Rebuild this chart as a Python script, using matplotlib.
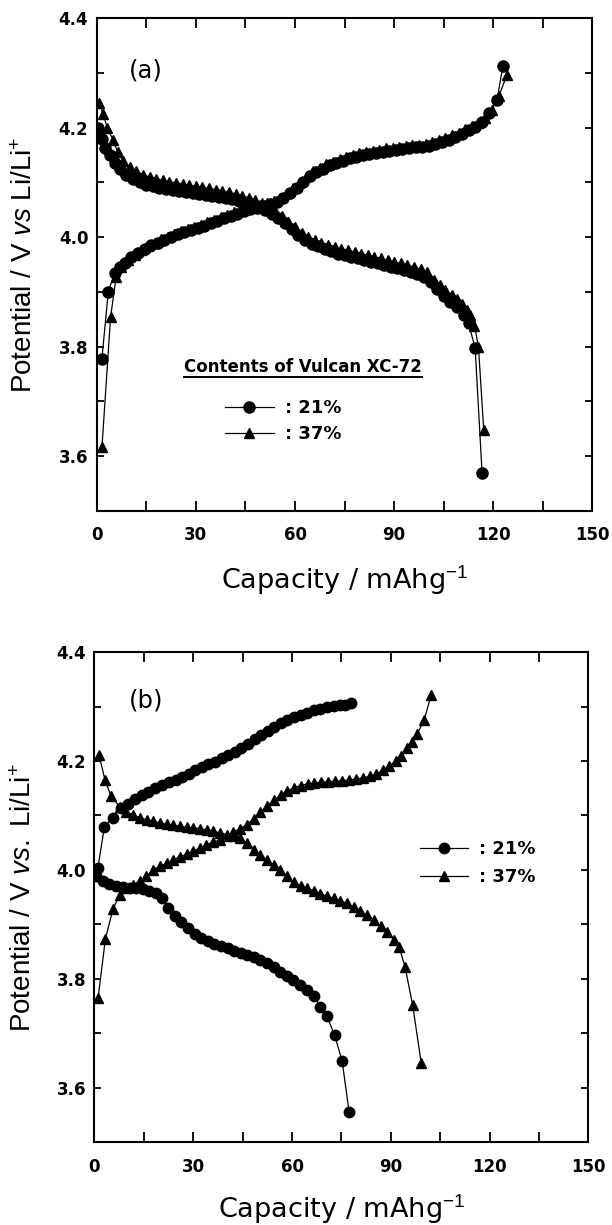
import matplotlib
matplotlib.use('Agg')
import matplotlib.pyplot as plt
from matplotlib.ticker import MultipleLocator, FuncFormatter
from matplotlib.lines import Line2D

plt.rcParams['mathtext.fontset'] = 'custom'
plt.rcParams['mathtext.rm'] = 'Liberation Sans'
plt.rcParams['mathtext.it'] = 'Liberation Sans:italic'
plt.rcParams['mathtext.bf'] = 'Liberation Sans:bold'

# ---------------- data: panel (a) ----------------
a21_chg_x = [1.57, 3.5, 5.4, 7.0, 8.5, 10.4, 12.5, 14.5, 16.5, 18.5, 20.5, 22.5, 24.5, 26.5, 28.5, 30.5,
             32.5, 34.5, 36.5, 38.5, 40.5, 42.5, 44.5, 46.5, 48.5, 50.5, 52.5, 54.5, 56.5, 58.5, 60.5,
             62.5, 64.5, 66.5, 68.5, 70.5, 72.5, 74.5, 76.5, 78.5, 80.5, 82.5, 84.5, 86.5, 88.5, 90.5,
             92.5, 94.5, 96.5, 98.5, 100.5, 102.5, 104.5, 106.5, 108.5, 110.5, 112.5, 114.5, 116.5,
             118.6, 121.1, 122.9]
a21_chg_y = [3.777, 3.900, 3.934, 3.945, 3.953, 3.963, 3.971, 3.978, 3.985, 3.990, 3.995, 4.000, 4.005,
             4.009, 4.013, 4.017, 4.021, 4.025, 4.030, 4.035, 4.039, 4.043, 4.047, 4.051, 4.054, 4.057,
             4.061, 4.065, 4.071, 4.080, 4.090, 4.101, 4.111, 4.119, 4.125, 4.131, 4.136, 4.140, 4.144,
             4.147, 4.150, 4.152, 4.154, 4.156, 4.158, 4.160, 4.161, 4.162, 4.164, 4.165, 4.167, 4.170,
             4.174, 4.178, 4.183, 4.189, 4.195, 4.201, 4.210, 4.226, 4.250, 4.313]

a37_chg_x = [1.6, 4.2, 5.9, 7.5, 9.5, 11.5, 13.5, 15.5, 17.5, 19.5, 21.5, 23.5, 25.5, 27.5, 29.5, 31.5,
             33.5, 35.5, 37.5, 39.5, 41.5, 43.5, 45.5, 47.5, 49.5, 51.5, 53.5, 55.5, 57.5, 59.5, 61.5,
             63.5, 65.5, 67.5, 69.5, 71.5, 73.5, 75.5, 77.5, 79.5, 81.5, 83.5, 85.5, 87.5, 89.5, 91.5,
             93.5, 95.5, 97.5, 99.5, 101.5, 103.5, 105.5, 107.5, 109.5, 111.5, 113.5, 115.5, 117.5,
             119.5, 121.7, 124.1]
a37_chg_y = [3.617, 3.854, 3.928, 3.945, 3.958, 3.968, 3.976, 3.984, 3.990, 3.996, 4.001, 4.006, 4.011,
             4.015, 4.019, 4.023, 4.027, 4.032, 4.037, 4.041, 4.045, 4.049, 4.053, 4.056, 4.059, 4.062,
             4.066, 4.072, 4.080, 4.090, 4.100, 4.111, 4.120, 4.127, 4.133, 4.138, 4.143, 4.147, 4.150,
             4.153, 4.156, 4.158, 4.160, 4.162, 4.163, 4.165, 4.166, 4.168, 4.169, 4.171, 4.174, 4.177,
             4.181, 4.186, 4.191, 4.197, 4.203, 4.209, 4.217, 4.232, 4.258, 4.296]

a21_dis_x = [0.5, 1.5, 2.5, 3.9, 5.5, 7.0, 9.0, 11, 13, 15, 17, 19, 21, 23, 25, 27, 29, 31, 33, 35, 37,
             39, 41, 43, 45, 47, 49, 51, 53, 55, 57, 59, 61, 63, 65, 67, 69, 71, 73, 75, 77, 79, 81, 83,
             85, 87, 89, 91, 93, 95, 97, 99, 101, 103, 105, 107, 109, 111, 112.5, 114.5, 116.6]
a21_dis_y = [4.200, 4.180, 4.163, 4.150, 4.135, 4.124, 4.114, 4.106, 4.100, 4.096, 4.093, 4.090, 4.088,
             4.086, 4.084, 4.082, 4.081, 4.079, 4.077, 4.075, 4.073, 4.071, 4.069, 4.066, 4.063, 4.059,
             4.055, 4.050, 4.043, 4.035, 4.026, 4.015, 4.004, 3.995, 3.988, 3.983, 3.978, 3.974, 3.970,
             3.967, 3.964, 3.961, 3.958, 3.955, 3.952, 3.949, 3.946, 3.943, 3.940, 3.936, 3.932, 3.928,
             3.918, 3.905, 3.893, 3.882, 3.872, 3.858, 3.843, 3.797, 3.569]

a37_dis_x = [0.8, 1.9, 3.2, 4.9, 6.4, 8, 10, 12, 14, 16, 18, 20, 22, 24, 26, 28, 30, 32, 34, 36, 38, 40,
             42, 44, 46, 48, 50, 52, 54, 56, 58, 60, 62, 64, 66, 68, 70, 72, 74, 76, 78, 80, 82, 84, 86,
             88, 90, 92, 94, 96, 98, 100, 102, 104, 105.5, 107.5, 109, 110.5, 112, 113, 114.3, 115.5,
             117.1]
a37_dis_y = [4.245, 4.225, 4.200, 4.178, 4.155, 4.140, 4.128, 4.120, 4.114, 4.110, 4.107, 4.104, 4.101,
             4.099, 4.097, 4.095, 4.093, 4.091, 4.089, 4.087, 4.085, 4.082, 4.079, 4.076, 4.072, 4.068,
             4.063, 4.056, 4.048, 4.038, 4.028, 4.018, 4.008, 4.001, 3.995, 3.990, 3.986, 3.982, 3.979,
             3.976, 3.973, 3.970, 3.967, 3.964, 3.961, 3.958, 3.955, 3.952, 3.949, 3.945, 3.941, 3.936,
             3.922, 3.912, 3.903, 3.895, 3.886, 3.878, 3.866, 3.858, 3.838, 3.800, 3.647]

# ---------------- data: panel (b) ----------------
b21_chg_x = [1.0, 3.0, 5.5, 8.0, 10.2, 12.3, 14.3, 16.3, 18.4, 20.5, 22.5, 24.6, 26.6, 28.6, 30.6, 32.6,
             34.6, 36.6, 38.6, 40.6, 42.6, 44.6, 46.6, 48.6, 50.6, 52.6, 54.6, 56.6, 58.6, 60.6, 62.6,
             64.6, 66.6, 68.6, 70.6, 72.6, 74.6, 76.2, 77.9]
b21_chg_y = [4.003, 4.079, 4.096, 4.113, 4.121, 4.130, 4.137, 4.144, 4.150, 4.156, 4.161, 4.166, 4.171,
             4.177, 4.183, 4.189, 4.194, 4.199, 4.205, 4.211, 4.217, 4.224, 4.232, 4.240, 4.248, 4.256,
             4.263, 4.270, 4.276, 4.281, 4.285, 4.289, 4.293, 4.296, 4.299, 4.301, 4.302, 4.303, 4.306]

b21_dis_x = [0.5, 2.5, 4.5, 6.6, 8.7, 10.7, 12.7, 14.7, 16.7, 18.7, 20.5, 22.3, 24.4, 26.4, 28.4, 30.4,
             32.4, 34.4, 36.4, 38.4, 40.4, 42.4, 44.4, 46.4, 48.4, 50.4, 52.4, 54.4, 56.4, 58.4, 60.4,
             62.4, 64.5, 66.6, 68.6, 70.6, 72.9, 75.2, 77.3]
b21_dis_y = [3.988, 3.980, 3.974, 3.970, 3.968, 3.967, 3.966, 3.965, 3.962, 3.957, 3.948, 3.930, 3.916,
             3.904, 3.893, 3.883, 3.875, 3.869, 3.864, 3.860, 3.856, 3.852, 3.848, 3.844, 3.840, 3.835,
             3.829, 3.822, 3.813, 3.806, 3.798, 3.789, 3.780, 3.768, 3.749, 3.731, 3.697, 3.649, 3.556]

b37_chg_x = [1.1, 3.3, 5.6, 7.6, 9.6, 11.7, 13.7, 15.7, 17.8, 19.8, 21.9, 23.9, 25.9, 28.0, 30.0, 32.0,
             34.0, 36.0, 38.1, 40.1, 42.2, 44.2, 46.2, 48.3, 50.3, 52.3, 54.4, 56.5, 58.5, 60.5, 62.6,
             64.7, 66.8, 68.9, 71.0, 73.1, 75.2, 77.3, 79.4, 81.5, 83.6, 85.5, 87.5, 89.5, 91.5, 93.2,
             95.0, 96.5, 98.0, 100.1, 102.2]
b37_chg_y = [3.765, 3.873, 3.928, 3.954, 3.966, 3.973, 3.979, 3.988, 4.000, 4.007, 4.012, 4.018, 4.024,
             4.029, 4.034, 4.040, 4.046, 4.051, 4.055, 4.062, 4.070, 4.076, 4.083, 4.094, 4.106, 4.117,
             4.128, 4.137, 4.145, 4.151, 4.155, 4.158, 4.160, 4.161, 4.162, 4.163, 4.164, 4.165, 4.167,
             4.169, 4.172, 4.176, 4.183, 4.191, 4.200, 4.209, 4.223, 4.235, 4.250, 4.275, 4.321]

b37_dis_x = [1.4, 3.2, 5.0, 7.6, 9.7, 11.7, 13.8, 15.8, 17.8, 19.9, 21.9, 23.9, 25.9, 28.0, 30.0, 32.0,
             34.1, 36.1, 38.1, 40.2, 42.2, 44.2, 46.2, 48.3, 50.3, 52.4, 54.4, 56.4, 58.5, 60.5, 62.6,
             64.6, 66.6, 68.6, 70.6, 72.6, 74.6, 76.7, 78.7, 80.7, 82.8, 84.8, 86.9, 88.9, 90.9, 92.5,
             94.3, 96.6, 99.2]
b37_dis_y = [4.211, 4.165, 4.136, 4.116, 4.107, 4.101, 4.096, 4.092, 4.089, 4.086, 4.084, 4.082, 4.080,
             4.078, 4.077, 4.076, 4.073, 4.071, 4.068, 4.065, 4.062, 4.058, 4.050, 4.037, 4.027, 4.018,
             4.009, 4.000, 3.989, 3.978, 3.971, 3.966, 3.962, 3.956, 3.952, 3.948, 3.943, 3.939, 3.932,
             3.924, 3.917, 3.908, 3.897, 3.886, 3.872, 3.859, 3.822, 3.752, 3.646]

series_labels = [': 21%', ': 37%']
legend_title_a = 'Contents of Vulcan XC-72'
panel_tags = ['(a)', '(b)']

xlim = (0, 150)
ylim = (3.5, 4.4)

fig = plt.figure(figsize=(6.12, 12.25), dpi=100)
ax_a = fig.add_axes([0.1580, 0.5831, 0.8101, 0.4020])
ax_b = fig.add_axes([0.1544, 0.0675, 0.8072, 0.4002])

tickfont = dict(family='DejaVu Sans', weight='bold', size=12)


def style(ax):
    ax.set_xlim(*xlim)
    ax.set_ylim(*ylim)
    ax.xaxis.set_major_locator(MultipleLocator(15))
    ax.yaxis.set_major_locator(MultipleLocator(0.1))
    ax.xaxis.set_major_formatter(FuncFormatter(
        lambda v, p: ('%d' % round(v)) if round(v) % 30 == 0 else ''))
    ax.yaxis.set_major_formatter(FuncFormatter(
        lambda v, p: ('%.1f' % v) if round(v * 10) % 2 == 0 else ''))
    ax.tick_params(direction='in', top=True, right=True, width=1.3)
    ax.tick_params(axis='x', pad=11, length=7)
    ax.tick_params(axis='y', pad=6, length=5)
    for lab in ax.get_xticklabels() + ax.get_yticklabels():
        lab.set_fontfamily(tickfont['family'])
        lab.set_fontweight(tickfont['weight'])
        lab.set_fontsize(tickfont['size'])
    for s in ax.spines.values():
        s.set_linewidth(1.5)


def curve(ax, x, y, marker, ms):
    ax.plot(x, y, color='black', lw=0.9, marker=marker, ms=ms, mfc='black', mec='black')


# panel (a)
curve(ax_a, a21_dis_x, a21_dis_y, 'o', 8)
curve(ax_a, a37_dis_x, a37_dis_y, '^', 7.5)
curve(ax_a, a21_chg_x, a21_chg_y, 'o', 8)
curve(ax_a, a37_chg_x, a37_chg_y, '^', 7.5)

# panel (b)
curve(ax_b, b21_dis_x, b21_dis_y, 'o', 7.5)
curve(ax_b, b21_chg_x, b21_chg_y, 'o', 7.5)
curve(ax_b, b37_dis_x, b37_dis_y, '^', 7)
curve(ax_b, b37_chg_x, b37_chg_y, '^', 7)

for ax in (ax_a, ax_b):
    style(ax)

ax_a.set_ylabel('Potential / V $\\mathit{vs}$ Li/Li$^{+}$', family='Liberation Sans', fontsize=20)
ax_b.set_ylabel('Potential / V $\\mathit{vs.}$ Li/Li$^{+}$', family='Liberation Sans', fontsize=20)
ax_a.yaxis.set_label_coords(-0.118, 0.5)
ax_b.yaxis.set_label_coords(-0.116, 0.5)

ax_a.set_xlabel('Capacity / mAhg$^{-1}$', family='DejaVu Sans', fontsize=19.5, labelpad=14)
ax_b.set_xlabel('Capacity / mAhg$^{-1}$', family='DejaVu Sans', fontsize=19.5, labelpad=12)

ax_a.text(0.065, 0.893, panel_tags[0], transform=ax_a.transAxes, family='DejaVu Sans',
          fontsize=17.5, ha='left', va='center')
ax_b.text(0.07, 0.902, panel_tags[1], transform=ax_b.transAxes, family='DejaVu Sans',
          fontsize=17.5, ha='left', va='center')

handles_a = [Line2D([], [], color='black', lw=0.9, marker='o', ms=8),
             Line2D([], [], color='black', lw=0.9, marker='^', ms=7.5)]
handles_b = [Line2D([], [], color='black', lw=0.9, marker='o', ms=7.5),
             Line2D([], [], color='black', lw=0.9, marker='^', ms=7)]
legfont = dict(family='DejaVu Sans', weight='bold', size=13)

ax_a.legend(handles_a, series_labels, loc='center left', bbox_to_anchor=(0.259, 0.1815),
            frameon=False, borderpad=0, borderaxespad=0, handlelength=2.7, handletextpad=0.6,
            labelspacing=0.45, numpoints=1, prop=legfont)
ax_b.legend(handles_b, series_labels, loc='center left', bbox_to_anchor=(0.658, 0.569),
            frameon=False, borderpad=0, borderaxespad=0, handlelength=2.7, handletextpad=0.6,
            labelspacing=0.55, numpoints=1, prop=legfont)

title = ax_a.text(0.176, 0.292, legend_title_a, transform=ax_a.transAxes, family='DejaVu Sans',
                  weight='bold', fontsize=12, ha='left', va='center')

fig.canvas.draw()
bb = title.get_window_extent()
W, H = fig.get_size_inches() * fig.dpi
uy = (bb.y0 - 1.0) / H
fig.add_artist(Line2D([bb.x0 / W, bb.x1 / W], [uy, uy], transform=fig.transFigure,
                      color='black', lw=1.4))

fig.savefig('out.png', dpi=100)
